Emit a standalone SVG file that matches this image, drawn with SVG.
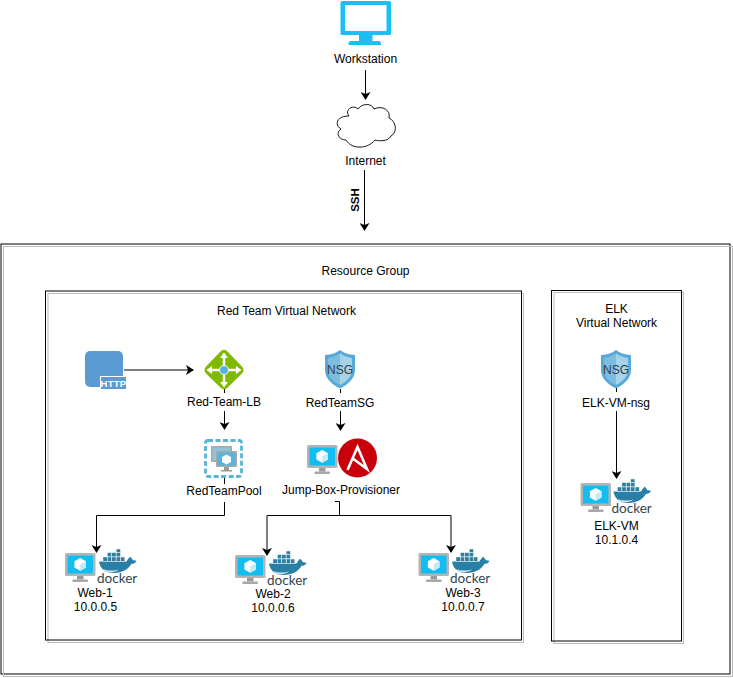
<svg xmlns="http://www.w3.org/2000/svg" xmlns:xlink="http://www.w3.org/1999/xlink" width="733" height="678" viewBox="0 0 733 678">
<style>
text{font-family:"Liberation Sans",Arial,sans-serif;font-size:12px;fill:#000;text-anchor:middle}
.box{fill:none;stroke:#000;stroke-width:1}
.shadow{fill:none;stroke:#bbb;stroke-width:1}
.conn{fill:none;stroke:#000;stroke-width:1;marker-end:url(#arrow)}
.line{fill:none;stroke:#000;stroke-width:1}
.dk{font-family:"Lato","Liberation Sans",sans-serif;font-size:13.5px;fill:#2f4550;text-anchor:start}
</style>
<defs>
<marker id="arrow" viewBox="0 0 8 10" refX="7" refY="5" markerWidth="8" markerHeight="10" markerUnits="userSpaceOnUse" orient="auto">
<path d="M0 0L8 5L0 10L2 5Z" fill="#000"/>
</marker>
<g id="vm">
<rect x="0" y="0" width="30.500" height="23" rx="1.500" fill="#b4b4b4"/>
<rect x="2.500" y="2.500" width="25.500" height="18" fill="#12bdf2"/>
<path d="M15.200 5L21 8.200V14.500L15.200 17.800L9.400 14.500V8.200Z" fill="#fff"/>
<path d="M15.200 11.300L21 8.200V14.500L15.200 17.800Z" fill="#c6e9f7"/>
<path d="M12 23H18.500V26.500H12Z" fill="#9a9a9a"/>
<rect x="7.500" y="26.500" width="15.500" height="2.500" rx=".8" fill="#a8a8a8"/>
</g>
<g id="docker">
<path d="M1 12.500H28.500C29.500 10.500 31 9 32 7.800C33.500 8.800 34.500 10 34.700 11.300C36 11 37.500 11.200 38.500 12C37.500 14 35.500 14.800 33.500 14.800C30.500 20.500 24 24 16 24C7 24 2 19.500 1 12.500Z" fill="#2a7fa6"/>
<path d="M5 20C9 21.500 16 22.500 21 20.500C17 24 8 24.500 5 20Z" fill="#d4e8f0"/>
<g fill="#2f7fa0" stroke="#fff" stroke-width=".4">
<rect x="5" y="8" width="4.200" height="4.200"/><rect x="9.400" y="8" width="4.200" height="4.200"/><rect x="13.800" y="8" width="4.200" height="4.200"/><rect x="18.200" y="8" width="4.200" height="4.200"/><rect x="22.600" y="8" width="4.200" height="4.200"/>
<rect x="9.400" y="3.600" width="4.200" height="4.200"/><rect x="13.800" y="3.600" width="4.200" height="4.200"/><rect x="18.200" y="3.600" width="4.200" height="4.200"/>
<rect x="18.200" y="0" width="4.200" height="3.400"/>
</g>
<text class="dk" x="-1" y="33.500">docker</text>
</g>
<g id="nsg">
<path d="M15 0L19 2.500C22 4 26 5 30 5V20C30 29 22 35 15 38.500C8 35 0 29 0 20V5C4 5 8 4 11 2.500Z" fill="#59a9d6"/>
<path d="M15 3.500C19 6 23 7.500 27 8V20C27 27 21 32 15 35Z" fill="#a7d3e8"/>
<path d="M15 3.500C11 6 7 7.500 3 8V20C3 27 9 32 15 35Z" fill="#7dbddf"/>
<text x="15" y="23.500" style="font-size:12px;fill:#2f3d4a">NSG</text>
</g>
</defs>

<g id="resource-group">
<rect class="box" x="1" y="244" width="729" height="430"/>
<rect class="shadow" x="3.500" y="246.500" width="729" height="430"/>
<text x="365.500" y="275">Resource Group</text>
</g>
<g id="red-team-network">
<rect class="shadow" x="48" y="293.500" width="475.500" height="349"/>
<rect class="box" x="45.500" y="291" width="476" height="349"/>
<text x="286.500" y="315">Red Team Virtual Network</text>
</g>
<g id="elk-network">
<rect class="shadow" x="554" y="292.500" width="129.500" height="351"/>
<rect class="box" x="551.500" y="290.500" width="130" height="350.500"/>
<text x="616.500" y="313">ELK</text>
<text x="616.500" y="327">Virtual Network</text>
</g>

<g id="connectors">
<path class="conn" d="M365.500 70V99"/>
<path class="conn" d="M364.500 170V230"/>
<path class="conn" d="M124 370H193"/>
<path class="line" d="M224.500 389V393"/>
<path class="conn" d="M224.500 411V429"/>
<path class="line" d="M224.500 478V484"/>
<path class="line" d="M224.500 502V515.500"/>
<path class="conn" d="M224.500 515.500H96.500V552"/>
<path class="line" d="M340.500 389V393"/>
<path class="conn" d="M340.500 411V430"/>
<path class="line" d="M335 501.500H339.500V515.500H267"/>
<path class="conn" d="M267 515.500V555"/>
<path class="conn" d="M339.500 515.500H451V552"/>
<path class="line" d="M616.500 388V392"/>
<path class="conn" d="M616.500 411V478"/>
</g>

<g id="workstation">
<path fill="#19bff5" fill-rule="evenodd" d="M342 1H389.500Q391 1 391 2.500V33.500Q391 35 389.500 35H342Q340.500 35 340.500 33.500V2.500Q340.500 1 342 1ZM345 5V31H386.500V5Z"/>
<path fill="#19bff5" d="M359 35H372.500V41H379Q381 41 381 43.500V45H348.500V43.500Q348.500 41 351 41H359Z"/>
<text x="365.500" y="63">Workstation</text>
</g>
<g id="internet">
<path fill="#fff" stroke="#000" stroke-width=".9" d="M349 116C344 110 353 104 358 109C362 103 372 103 374 109C382 105 391 110 389 118C396 121 398 132 391 136C388 142 378 141 375 140C368 149 352 150 346 140C339 140 335 133 341 129C335 126 335 116 349 116Z"/>
<text x="365.500" y="165">Internet</text>
</g>
<g id="http">
<rect x="85" y="351" width="38" height="36" rx="5" fill="#5b9bd5"/>
<rect x="100" y="376" width="26" height="13" fill="#fff"/>
<rect x="101" y="377" width="25" height="12" fill="#5b9bd5"/>
<text x="113.500" y="387" style="font-size:9.500px;font-weight:bold;fill:#fff;letter-spacing:.3px">HTTP</text>
</g>
<g id="red-team-lb">
<path d="M221 351Q224 348.500 227 351L242 366.500Q245 370 242 373.500L227 388Q224 390.500 221 388L206 373.500Q203 370 206 366.500Z" fill="#7fb900"/>
<path d="M224 356V384M210 370H238" stroke="#fff" stroke-width="2.500" fill="none"/>
<path d="M224 352.500L228 358H220ZM224 387.500L228 382H220ZM206.500 370L212 366V374ZM241.500 370L236 366V374Z" fill="#fff"/>
<circle cx="224" cy="370" r="4.500" fill="#50b4dd" stroke="#fff" stroke-width="1"/>
<text x="224" y="406">Red-Team-LB</text>
</g>
<g id="red-team-pool">
<rect x="205.500" y="440.500" width="36" height="36" rx="2.500" fill="none" stroke="#59b4d9" stroke-width="2.800" stroke-dasharray="5 2.500"/>
<rect x="211" y="446" width="21" height="16" rx="1" fill="#a8a8a8"/>
<rect x="212.500" y="447.500" width="18" height="13" fill="#8fc4dc"/>
<rect x="216" y="451" width="21" height="16" rx="1" fill="#a8a8a8"/>
<rect x="217.500" y="452.500" width="18" height="13" fill="#59b4d9"/>
<path d="M226.500 454.500L231 457V462L226.500 464.500L222 462V457Z" fill="#fff"/>
<path d="M224 467H229V470H224ZM221 470H232V471.500H221Z" fill="#999"/>
<text x="224" y="495">RedTeamPool</text>
</g>
<g id="red-team-sg">
<use href="#nsg" xlink:href="#nsg" x="325" y="350"/>
<text x="340" y="406.500">RedTeamSG</text>
</g>
<g id="jump-box">
<use href="#vm" xlink:href="#vm" x="307" y="445"/>
<circle cx="357.500" cy="458" r="19.500" fill="#c9000c"/>
<path d="M347.500 470L357.500 447L367 469L353.500 459" fill="none" stroke="#fff" stroke-width="2.600"/>
<text x="341" y="494">Jump-Box-Provisioner</text>
</g>
<g id="web-1">
<use href="#vm" xlink:href="#vm" x="65" y="553"/>
<use href="#docker" xlink:href="#docker" x="98" y="549"/>
<text x="95" y="597">Web-1</text>
<text x="95.500" y="611">10.0.0.5</text>
</g>
<g id="web-2">
<use href="#vm" xlink:href="#vm" x="235" y="555"/>
<use href="#docker" xlink:href="#docker" x="268" y="551"/>
<text x="273" y="598">Web-2</text>
<text x="273" y="612">10.0.0.6</text>
</g>
<g id="web-3">
<use href="#vm" xlink:href="#vm" x="418.500" y="553"/>
<use href="#docker" xlink:href="#docker" x="451" y="549"/>
<text x="463" y="597">Web-3</text>
<text x="463" y="611">10.0.0.7</text>
</g>
<g id="elk-vm-nsg">
<use href="#nsg" xlink:href="#nsg" x="601" y="350"/>
<text x="616" y="406.500">ELK-VM-nsg</text>
</g>
<g id="elk-vm">
<use href="#vm" xlink:href="#vm" x="580.500" y="483"/>
<use href="#docker" xlink:href="#docker" x="612.500" y="479"/>
<text x="616.500" y="530">ELK-VM</text>
<text x="616.500" y="544">10.1.0.4</text>
</g>
<text transform="translate(359 200) rotate(-90)" style="font-weight:bold;font-size:11.500px">SSH</text>
</svg>
